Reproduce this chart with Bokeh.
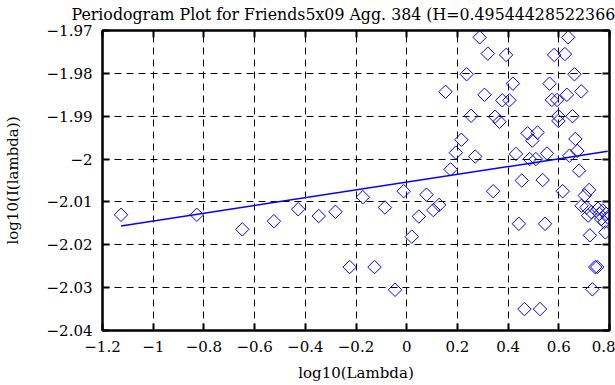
import math
from bokeh.plotting import figure
from bokeh.models import FixedTicker, LinearAxis, Title, CustomLabelingPolicy
from bokeh.embed import file_html
from bokeh.resources import INLINE

# ---- data ----
lam_x = [-1.127, -0.828, -0.6485, -0.524, -0.428, -0.347, -0.281, -0.225, -0.173, -0.127,
         -0.086, -0.046, -0.012, 0.020, 0.048, 0.078, 0.105, 0.128, 0.173, 0.194,
         0.2157, 0.153, 0.2365, 0.270, 0.254, 0.288, 0.307, 0.320, 0.341, 0.3486,
         0.366, 0.377, 0.405, 0.392, 0.419, 0.431, 0.4425, 0.454, 0.4645, 0.477,
         0.516, 0.4955, 0.485, 0.5094, 0.526, 0.5364, 0.5457, 0.5534, 0.5635, 0.5728,
         0.5933, 0.5816, 0.5983, 0.5983, 0.6153, 0.6241, 0.632, 0.637, 0.6423, 0.654,
         0.6616, 0.6654, 0.673, 0.680, 0.6887, 0.7196, 0.7026, 0.6899, 0.7092, 0.7285,
         0.7157, 0.7544, 0.7606, 0.7737, 0.7865, 0.7672, 0.7800, 0.7930, 0.7838, 0.7227,
         0.7436, 0.7514, 0.7325]
lam_y = [-2.0130, -2.0130, -2.0164, -2.0145, -2.0117, -2.0133, -2.0123, -2.0252, -2.0089, -2.0252,
         -2.0113, -2.0305, -2.0075, -2.0181, -2.0134, -2.0083, -2.0119, -2.0107, -2.0024, -1.9985,
         -1.9955, -1.9843, -1.9802, -1.9994, -1.9899, -1.9716, -1.9850, -1.9754, -2.0075, -1.9901,
         -1.9913, -1.9863, -1.9863, -1.9757, -1.9824, -1.9988, -2.0151, -2.0050, -2.0350, -1.9940,
         -1.9938, -1.9957, -2.0000, -2.0000, -2.0350, -2.0049, -2.0151, -1.9987, -1.9824, -1.9862,
         -1.9862, -1.9757, -1.9900, -1.9911, -2.0075, -1.9755, -1.9850, -1.9716, -1.9992, -1.9900,
         -1.9802, -1.9953, -1.9981, -2.0027, -1.9842, -2.0072, -2.0085, -2.0109, -2.0113, -2.0124,
         -2.0132, -2.0116, -2.0128, -2.0120, -2.0128, -2.0140, -2.0147, -2.0136, -2.0171, -2.0178,
         -2.0252, -2.0252, -2.0304]
fit_x = [-1.127, 0.793]
fit_y = [-2.0156, -1.9982]

x_ticks = [-1.2, -1.0, -0.8, -0.6, -0.4, -0.2, 0.0, 0.2, 0.4, 0.6, 0.8]
x_tick_labels = ["\u22121.2", "\u22121", "\u22120.8", "\u22120.6", "\u22120.4", "\u22120.2",
                 "0", "0.2", "0.4", "0.6", "0.8"]
y_ticks = [-2.04, -2.03, -2.02, -2.01, -2.0, -1.99, -1.98, -1.97]
y_tick_labels = ["\u22122.04", "\u22122.03", "\u22122.02", "\u22122.01", "\u22122",
                 "\u22121.99", "\u22121.98", "\u22121.97"]

title_text = "Periodogram Plot for Friends5x09 Agg. 384 (H=0.49544428522366"
x_label = "log10(Lambda)"
y_label = "log10(I(lambda))"

FONT = "DejaVu Serif"
FS = "15px"

p = figure(width=615, height=385, output_backend="svg", toolbar_location=None,
           x_range=(-1.2, 0.8), y_range=(-2.04, -1.97),
           min_border_left=91, min_border_right=6, min_border_top=29, min_border_bottom=55,
           background_fill_color="white", border_fill_color="white")

p.title = Title(text=title_text, align="left", offset=-31, text_font=FONT,
                text_font_size="15.8px", text_font_style="normal", text_color="black",
                standoff=5)

p.outline_line_color = "black"
p.outline_line_width = 2

for g in (p.xgrid[0], p.ygrid[0]):
    g.grid_line_color = "black"
    g.grid_line_dash = "7 5"
    g.grid_line_width = 1
p.xgrid[0].ticker = FixedTicker(ticks=x_ticks[1:-1])
p.ygrid[0].ticker = FixedTicker(ticks=y_ticks[1:-1])

xa = p.xaxis[0]
ya = p.yaxis[0]
xa.ticker = FixedTicker(ticks=x_ticks)
ya.ticker = FixedTicker(ticks=y_ticks)
xa.major_label_overrides = {t: l for t, l in zip(x_ticks, x_tick_labels)}
ya.major_label_overrides = {t: l for t, l in zip(y_ticks, y_tick_labels)}
xa.axis_label = x_label
ya.axis_label = y_label
for a in (xa, ya):
    a.axis_line_width = 2
    a.axis_line_color = "black"
    a.major_tick_in = 7
    a.major_tick_out = 0
    a.major_tick_line_width = 2
    a.minor_tick_line_color = None
    a.major_label_text_font = FONT
    a.major_label_text_font_size = FS
    a.major_label_text_color = "black"
    a.axis_label_text_font = FONT
    a.axis_label_text_font_size = FS
    a.axis_label_text_font_style = "normal"
    a.axis_label_text_color = "black"
xa.major_label_standoff = 10
ya.major_label_standoff = 10
xa.axis_label_standoff = 9
ya.axis_label_standoff = 22

# tick marks on the right and top frame edges (no labels drawn)
no_labels = CustomLabelingPolicy(code="return new indices.constructor(indices.size, 0);")
extra = dict(major_tick_in=7, major_tick_out=0, major_tick_line_width=2,
             minor_tick_line_color=None, axis_line_width=2,
             major_label_text_font_size="1px", major_label_standoff=0,
             major_label_policy=no_labels)
ra = LinearAxis(ticker=FixedTicker(ticks=y_ticks), **extra)
ta = LinearAxis(ticker=FixedTicker(ticks=x_ticks), **extra)
p.add_layout(ra, "right")
p.add_layout(ta, "above")

p.line(fit_x, fit_y, line_color="#0000ff", line_width=1.5)
p.scatter(lam_x, lam_y, marker="square", size=9.5, angle=math.pi / 4,
          fill_color=None, line_color="#0000ff", line_width=1)

open("out.html", "w").write(file_html(p, INLINE))
